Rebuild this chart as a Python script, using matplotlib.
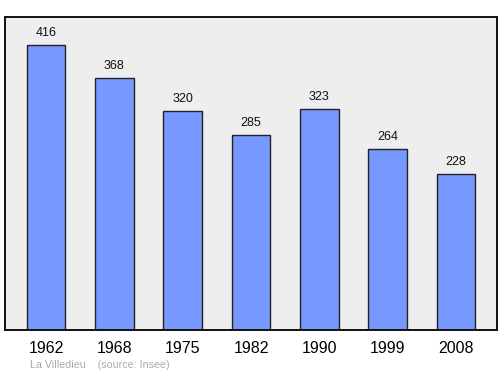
import matplotlib
matplotlib.use("Agg")
import matplotlib.pyplot as plt

years = ["1962", "1968", "1975", "1982", "1990", "1999", "2008"]
population = [416, 368, 320, 285, 323, 264, 228]

fig = plt.figure(figsize=(5.0, 3.74), dpi=100)
ax = fig.add_axes([5/500, 1-330/374, 492/500, 313/374])
ax.set_facecolor("#eeeeee")
x = list(range(len(years)))
ax.bar(x, population, width=0.57, color="#7799ff", edgecolor="#222222", linewidth=1.0, zorder=2)
for xi, v in zip(x, population):
    ax.text(xi, v + 12/0.685, str(v), ha="center", va="center", fontsize=9, color="#111111",
            family=["Liberation Sans", "DejaVu Sans"])
ax.set_xlim(-0.6, 6.6)
ax.set_ylim(0, 457)
ax.set_xticks(x)
ax.set_xticklabels(years, fontsize=11.5, family=["Liberation Sans", "DejaVu Sans"])
ax.tick_params(axis="x", length=0, pad=8)
ax.set_yticks([])
for s in ax.spines.values():
    s.set_linewidth(1.4)
    s.set_color("#111111")
fig.text(30/500, 1-365/374, "La Villedieu    (source: Insee)", fontsize=7.7, color="#aaaaaa",
         va="center", ha="left", family=["Liberation Sans", "DejaVu Sans"])
fig.savefig("out.png", dpi=100)
